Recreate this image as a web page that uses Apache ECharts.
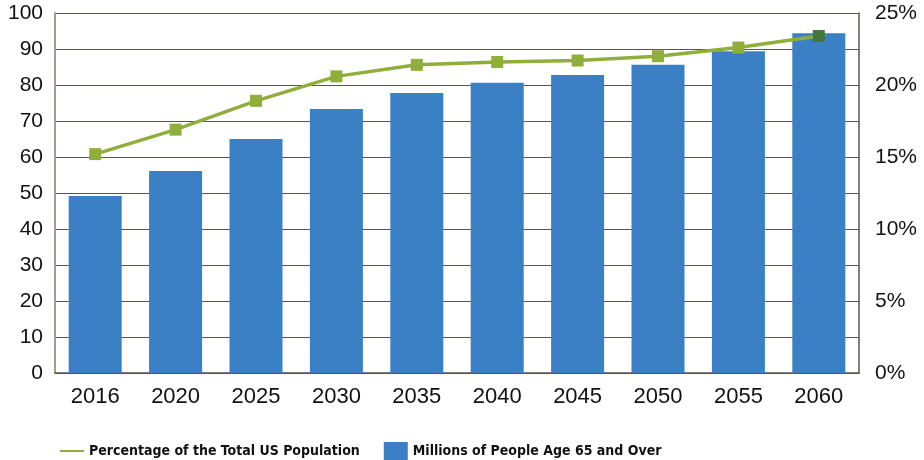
<!DOCTYPE html>
<html>
<head>
<meta charset="utf-8">
<script src="https://cdn.jsdelivr.net/npm/echarts@6/dist/echarts.min.js"></script>
<style>
  html, body { margin: 0; padding: 0; background: #fff; }
  #chart { width: 924px; height: 460px; }
</style>
</head>
<body>
<div id="chart"></div>
<script>
// Projected population age 65 and over
const years = ['2016', '2020', '2025', '2030', '2035', '2040', '2045', '2050', '2055', '2060'];
const millionsAge65 = [49.2, 56.1, 65.0, 73.3, 77.8, 80.6, 82.8, 85.6, 89.4, 94.4];
const percentOfTotal = [15.2, 16.9, 18.9, 20.6, 21.4, 21.6, 21.7, 22.0, 22.6, 23.4];
const leftTicks = [0, 100, 10];
const rightTicks = [0, 25, 5];

const BLUE = '#3b7fc4';
const GREEN = '#8fae3a';
const GREEN_ON_BLUE = '#3f7838';
const GRID = '#5b564c';
const FONT = '"Liberation Sans", Arial, sans-serif';
const LEGEND_FONT = '"DejaVu Sans Condensed", "Liberation Sans", sans-serif';

// the last point sits over its bar, where the line darkens
const lineData = percentOfTotal.map((v, i) =>
  i === percentOfTotal.length - 1 ? { value: v, itemStyle: { color: GREEN_ON_BLUE } } : v
);

const chart = echarts.init(document.getElementById('chart'), null, { renderer: 'canvas' });

chart.setOption({
  animation: false,
  grid: { left: 55, right: 65, top: 13, bottom: 87, containLabel: false },
  legend: {
    left: 55,
    top: 437,
    itemGap: 24,
    itemWidth: 24,
    itemHeight: 18,
    textStyle: { fontFamily: LEGEND_FONT, fontSize: 14, color: '#111', fontWeight: 'bold' },
    data: [
      { name: 'Percentage of the Total US Population', icon: 'path://M0,8 L24,8 L24,10 L0,10 Z', itemStyle: { color: GREEN } },
      { name: 'Millions of People Age 65 and Over', icon: 'rect' }
    ]
  },
  xAxis: {
    type: 'category',
    data: years,
    axisLine: { show: true, lineStyle: { color: GRID, width: 1.5 } },
    axisTick: { show: false },
    axisLabel: { fontFamily: FONT, fontSize: 22, color: '#111', margin: 13 }
  },
  yAxis: [
    {
      type: 'value',
      min: leftTicks[0], max: leftTicks[1], interval: leftTicks[2],
      axisLine: { show: true, lineStyle: { color: '#a39e94', width: 2 } },
      axisTick: { show: false },
      splitLine: { show: true, lineStyle: { color: GRID, width: 1 } },
      axisLabel: { fontFamily: FONT, fontSize: 21, color: '#111', margin: 12 }
    },
    {
      type: 'value',
      min: rightTicks[0], max: rightTicks[1], interval: rightTicks[2],
      position: 'right',
      axisLine: { show: true, lineStyle: { color: GRID, width: 1.5 } },
      axisTick: { show: false },
      splitLine: { show: false },
      axisLabel: { fontFamily: FONT, fontSize: 21, color: '#111', margin: 16, formatter: '{value}%' }
    }
  ],
  series: [
    {
      name: 'Millions of People Age 65 and Over',
      type: 'bar',
      yAxisIndex: 0,
      data: millionsAge65,
      barWidth: 53,
      itemStyle: { color: BLUE }
    },
    {
      name: 'Percentage of the Total US Population',
      type: 'line',
      yAxisIndex: 1,
      data: lineData,
      symbol: 'rect',
      symbolSize: 12,
      showAllSymbol: true,
      lineStyle: { color: GREEN, width: 3.5 },
      itemStyle: { color: GREEN },
      z: 5
    }
  ]
});
</script>
</body>
</html>
